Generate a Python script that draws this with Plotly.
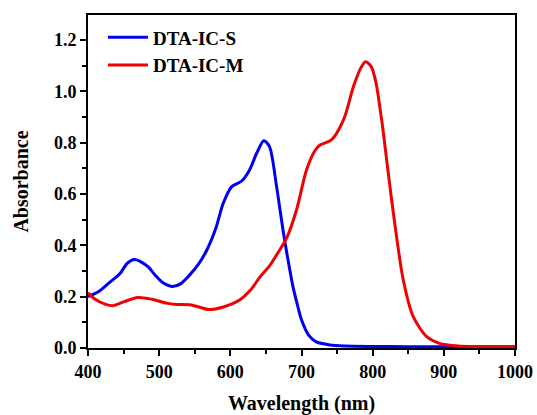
import plotly.graph_objects as go

# DTA-IC-S (blue)
wl_s = [400, 415, 430, 445, 455, 465, 475, 485, 495, 505, 518, 530, 543, 556, 567, 580,
        590, 602, 616, 627, 637, 647, 655, 665, 674, 680, 688, 695, 700, 710, 720, 740,
        760, 800, 850, 900, 950, 1000]
abs_s = [0.200, 0.220, 0.255, 0.290, 0.330, 0.345, 0.335, 0.315, 0.282, 0.255, 0.240, 0.250, 0.285, 0.330, 0.382, 0.470,
         0.564, 0.629, 0.651, 0.694, 0.759, 0.808, 0.785, 0.629, 0.460, 0.360, 0.239, 0.160, 0.110, 0.050, 0.025, 0.012,
         0.008, 0.006, 0.005, 0.005, 0.005, 0.005]

# DTA-IC-M (red)
wl_m = [400, 410, 425, 435, 450, 470, 490, 510, 525, 545, 570, 590, 613, 628, 642, 655,
        665, 679, 693, 707, 719, 726, 742, 759, 773, 783, 790, 798, 805, 810, 815, 822,
        831, 843, 857, 876, 894, 920, 950, 1000]
abs_m = [0.215, 0.190, 0.170, 0.165, 0.180, 0.197, 0.190, 0.175, 0.170, 0.168, 0.150, 0.160, 0.187, 0.225, 0.278, 0.320,
         0.363, 0.428, 0.538, 0.694, 0.770, 0.791, 0.811, 0.889, 1.019, 1.090, 1.116, 1.097, 1.030, 0.940, 0.840, 0.680,
         0.486, 0.265, 0.122, 0.044, 0.018, 0.008, 0.006, 0.005]

x_ticks = [400, 500, 600, 700, 800, 900, 1000]
y_ticks = [0.0, 0.2, 0.4, 0.6, 0.8, 1.0, 1.2]
y_labels = ["0.0", "0.2", "0.4", "0.6", "0.8", "1.0", "1.2"]

font_family = "Liberation Serif"

fig = go.Figure()
fig.add_trace(go.Scatter(x=wl_s, y=abs_s, mode="lines", name="DTA-IC-S",
                         line=dict(color="#0000f0", width=3, shape="spline", smoothing=0.8)))
fig.add_trace(go.Scatter(x=wl_m, y=abs_m, mode="lines", name="DTA-IC-M",
                         line=dict(color="#f00000", width=3, shape="spline", smoothing=0.8)))

axis_common = dict(showline=True, linecolor="black", linewidth=2, mirror=True,
                   ticks="outside", ticklen=6, tickwidth=2, tickcolor="black",
                   showgrid=False, zeroline=False,
                   tickfont=dict(family=font_family, size=18, color="black"))

fig.update_xaxes(range=[400, 1000], tickvals=x_ticks,
                 ticktext=["<b>%d</b>" % t for t in x_ticks],
                 minor=dict(dtick=50, ticks="outside", ticklen=4, tickwidth=2, tickcolor="black"),
                 title=dict(text="<b>Wavelength (nm)</b>", font=dict(family=font_family, size=20, color="black"),
                            standoff=16),
                 **axis_common)
fig.update_yaxes(range=[0, 1.298], tickvals=y_ticks, ticktext=["<b>%s</b>" % t for t in y_labels],
                 minor=dict(dtick=0.1, ticks="outside", ticklen=4, tickwidth=2, tickcolor="black"),
                 title=dict(text="<b>Absorbance</b>", font=dict(family=font_family, size=20, color="black"),
                            standoff=20),
                 **axis_common)

fig.update_layout(
    width=537, height=415,
    margin=dict(l=88, r=22, t=15, b=67, autoexpand=False),
    plot_bgcolor="white", paper_bgcolor="white",
    legend=dict(x=0.035, y=0.99, xanchor="left", yanchor="top", bgcolor="rgba(0,0,0,0)",
                itemwidth=40, tracegroupgap=0,
                font=dict(family=font_family, size=19, color="black")),
    showlegend=True,
)
fig.for_each_trace(lambda t: t.update(name="<b>%s</b>" % t.name))

fig.write_html("out.html")
